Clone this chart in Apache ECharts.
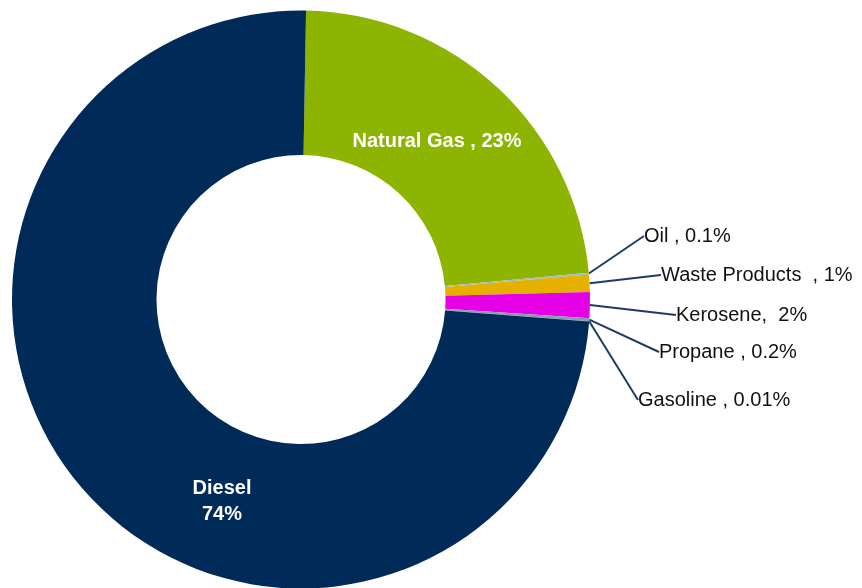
<!DOCTYPE html>
<html>
<head>
<meta charset="utf-8">
<script src="https://cdn.jsdelivr.net/npm/echarts@6/dist/echarts.min.js"></script>
<style>
  html, body { margin: 0; padding: 0; background: #ffffff; }
  #chart { width: 862px; height: 588px; }
</style>
</head>
<body>
<div id="chart"></div>
<script>
// ---- data (clockwise from 12 o'clock) ----
const categories = ['Natural Gas', 'Oil', 'Waste Products', 'Kerosene', 'Propane', 'Gasoline', 'Diesel'];
const shares = [23.25, 0.1, 0.97, 1.44, 0.17, 0.01, 74.1];
const labelTexts = ['Natural Gas , 23%', 'Oil , 0.1%', 'Waste Products  , 1%', 'Kerosene,  2%', 'Propane , 0.2%', 'Gasoline , 0.01%', 'Diesel\n74%'];

// ---- styles ----
const colors = ['#8cb400', '#9cb8cc', '#e6b000', '#e600e6', '#8a9cb0', '#7f9fc0', '#002a57'];
const insideNames = ['Natural Gas', 'Diesel'];
const labelPos = [
  { x: 437, y: 141, align: 'center' },
  { x: 644, y: 236, align: 'left' },
  { x: 661, y: 275, align: 'left' },
  { x: 676, y: 315, align: 'left' },
  { x: 659, y: 352, align: 'left' },
  { x: 638, y: 400, align: 'left' },
  { x: 222, y: 501, align: 'center' }
];

const chart = echarts.init(document.getElementById('chart'), null, { renderer: 'canvas' });

const seriesData = categories.map(function (name, i) {
  const inside = insideNames.indexOf(name) >= 0;
  const item = {
    name: name,
    value: shares[i],
    itemStyle: { color: colors[i] }
  };
  if (inside) {
    item.label = {
      position: 'inside',
      color: '#ffffff',
      fontWeight: 'bold',
      fontSize: 20,
      lineHeight: 26,
      align: 'center'
    };
    item.labelLine = { show: false };
  }
  return item;
});

chart.setOption({
  animation: false,
  backgroundColor: '#ffffff',
  series: [{
    type: 'pie',
    center: [301, 299.5],
    radius: [144.5, 289],
    startAngle: 89,
    clockwise: true,
    avoidLabelOverlap: false,
    minShowLabelAngle: 0,
    data: seriesData,
    label: {
      show: true,
      position: 'outside',
      fontFamily: 'Liberation Sans, Arial, sans-serif',
      fontSize: 20,
      color: '#111111',
      formatter: function (p) { return labelTexts[p.dataIndex]; }
    },
    labelLine: {
      show: true,
      length: 10,
      length2: 0,
      smooth: false,
      lineStyle: { color: '#1f3b63', width: 2 }
    },
    labelLayout: function (p) {
      const pos = labelPos[p.dataIndex];
      return { x: pos.x, y: pos.y, align: pos.align, verticalAlign: 'middle' };
    },
    emphasis: { disabled: true }
  }]
});
</script>
</body>
</html>
